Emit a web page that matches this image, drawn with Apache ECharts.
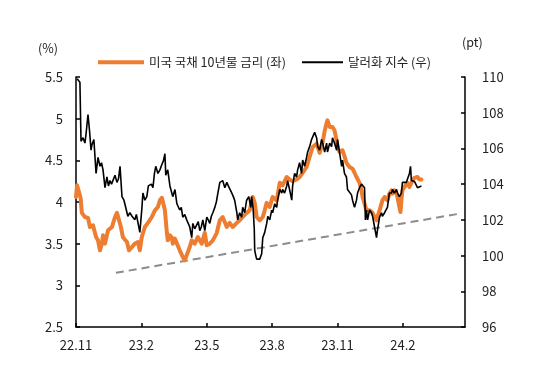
<!DOCTYPE html>
<html>
<head>
<meta charset="utf-8">
<script src="https://cdn.jsdelivr.net/npm/echarts@6/dist/echarts.min.js"></script>
<style>
html,body{margin:0;padding:0;background:#fff;}
#chart{width:540px;height:365px;}
</style>
</head>
<body>
<div id="chart"></div>
<script>
// x positions are in months since 2022-11
const xTickLabels = ['22.11','23.2','23.5','23.8','23.11','24.2'];

// US 10Y treasury yield (%), left axis
const rateT = [0.00,0.05,0.14,0.21,0.27,0.41,0.55,0.64,0.78,0.92,1.01,1.10,1.19,1.24,1.33,1.47,1.65,1.79,1.88,1.97,2.06,2.15,2.24,2.34,2.43,2.57,2.70,2.84,2.93,3.02,3.16,3.30,3.48,3.62,3.76,3.85,3.94,3.99,4.08,4.17,4.21,4.31,4.40,4.44,4.54,4.63,4.76,4.90,4.99,5.08,5.22,5.31,5.45,5.59,5.77,5.91,6.00,6.14,6.28,6.46,6.60,6.73,6.92,7.05,7.19,7.38,7.51,7.65,7.83,7.97,8.11,8.20,8.29,8.43,8.57,8.66,8.75,8.89,9.02,9.21,9.35,9.48,9.67,9.80,9.94,10.12,10.26,10.40,10.58,10.72,10.86,11.04,11.18,11.32,11.41,11.50,11.54,11.64,11.77,11.86,11.96,12.00,12.09,12.23,12.32,12.41,12.55,12.69,12.87,13.01,13.10,13.15,13.24,13.33,13.47,13.61,13.70,13.79,13.83,13.93,14.02,14.06,14.16,14.29,14.38,14.48,14.52,14.61,14.71,14.75,14.84,14.89,14.93,14.98,15.07,15.16,15.21,15.30,15.39,15.44,15.53,15.62,15.67,15.76,15.85];
const rateV = [4.06,4.20,4.18,4.05,3.87,3.82,3.81,3.70,3.72,3.58,3.54,3.42,3.50,3.60,3.50,3.66,3.70,3.82,3.87,3.87,3.70,3.58,3.55,3.52,3.42,3.46,3.50,3.52,3.42,3.58,3.70,3.75,3.82,3.90,3.94,4.02,4.05,4.00,3.90,3.63,3.54,3.60,3.57,3.50,3.56,3.54,3.42,3.34,3.30,3.32,3.46,3.54,3.50,3.58,3.50,3.63,3.48,3.50,3.54,3.63,3.78,3.82,3.70,3.75,3.70,3.75,3.78,3.82,3.87,3.90,4.06,3.99,3.82,3.78,3.82,3.90,3.99,3.94,4.06,4.02,4.23,4.20,4.30,4.27,4.25,4.27,4.30,4.35,4.42,4.54,4.66,4.70,4.59,4.72,4.85,4.95,4.98,4.90,4.90,4.86,4.74,4.66,4.60,4.62,4.55,4.47,4.42,4.40,4.30,4.23,4.14,4.06,3.98,3.90,3.90,3.87,3.82,3.78,3.82,3.90,3.98,4.02,4.06,4.02,4.10,4.14,4.10,4.14,4.10,4.06,3.94,3.88,4.02,4.14,4.18,4.18,4.23,4.18,4.23,4.26,4.29,4.30,4.30,4.27,4.27];

// Dollar index (pt), right axis
const dxyT = [0.05,0.11,0.18,0.23,0.32,0.41,0.46,0.55,0.62,0.69,0.73,0.82,0.92,1.01,1.10,1.17,1.24,1.33,1.42,1.49,1.56,1.63,1.69,1.79,1.88,1.95,2.02,2.11,2.20,2.24,2.34,2.38,2.47,2.57,2.63,2.70,2.77,2.84,2.93,3.02,3.07,3.16,3.25,3.32,3.39,3.46,3.53,3.60,3.66,3.76,3.85,3.94,4.01,4.08,4.12,4.21,4.31,4.37,4.44,4.54,4.63,4.70,4.76,4.83,4.90,4.99,5.08,5.15,5.22,5.31,5.36,5.45,5.54,5.61,5.68,5.75,5.82,5.91,6.00,6.07,6.14,6.21,6.28,6.37,6.44,6.51,6.60,6.67,6.73,6.83,6.92,6.99,7.05,7.15,7.22,7.28,7.38,7.42,7.51,7.60,7.65,7.74,7.83,7.93,8.02,8.06,8.13,8.18,8.20,8.25,8.29,8.36,8.43,8.52,8.57,8.66,8.75,8.80,8.89,8.98,9.02,9.12,9.21,9.25,9.35,9.44,9.48,9.57,9.67,9.71,9.80,9.90,9.94,10.03,10.12,10.17,10.26,10.35,10.40,10.49,10.58,10.63,10.72,10.81,10.86,10.95,11.04,11.09,11.18,11.27,11.32,11.41,11.50,11.54,11.64,11.73,11.77,11.86,11.96,12.00,12.09,12.19,12.23,12.32,12.41,12.46,12.55,12.64,12.69,12.78,12.87,12.92,13.01,13.10,13.15,13.24,13.28,13.33,13.38,13.47,13.56,13.61,13.70,13.79,13.83,13.93,14.02,14.06,14.16,14.25,14.29,14.38,14.48,14.52,14.61,14.71,14.75,14.84,14.93,14.98,15.07,15.16,15.21,15.30,15.35,15.39,15.44,15.53,15.62,15.67,15.76,15.85];
const dxyV = [109.9,110.0,109.7,106.4,106.6,106.3,106.8,107.9,107.0,105.9,106.2,106.5,104.6,105.5,105.0,105.2,104.8,103.8,104.4,103.9,104.2,104.0,104.1,104.5,104.1,104.3,105.0,103.3,103.1,102.9,102.4,102.2,102.4,102.2,102.3,102.0,102.3,102.2,101.3,102.6,103.5,103.1,103.3,103.9,103.8,104.0,103.8,104.6,105.0,104.6,104.8,105.1,105.3,105.7,104.5,104.8,103.9,104.0,103.3,103.7,102.9,103.0,102.55,102.7,102.15,102.3,102.0,102.1,101.6,101.0,101.8,101.5,101.6,101.9,101.4,101.6,102.0,101.4,102.15,102.0,101.8,102.2,102.4,102.7,103.0,103.5,104.1,104.0,104.2,103.8,104.1,103.9,103.8,103.5,103.3,103.1,102.4,102.0,102.4,102.15,102.7,102.4,103.1,103.3,102.7,103.3,102.6,101.5,100.3,100.0,99.8,99.75,99.8,100.1,101.0,101.3,101.8,102.2,102.0,102.55,102.4,102.9,102.7,103.1,103.7,103.5,103.7,103.5,103.9,104.2,103.7,103.1,103.9,104.6,104.4,104.8,105.2,104.6,105.35,105.0,105.5,105.8,106.1,106.5,106.6,106.9,106.6,106.1,105.9,106.5,106.3,105.8,106.3,105.8,106.3,106.1,106.6,106.3,105.9,106.5,105.8,105.0,105.35,104.6,104.4,103.7,103.6,103.4,103.1,102.7,103.1,103.5,103.8,104.0,104.0,103.8,102.0,102.55,102.0,102.55,102.4,102.2,101.6,101.0,101.4,102.15,102.4,102.2,102.4,102.4,102.7,103.5,103.5,103.7,103.5,103.7,103.5,103.3,103.5,104.1,104.2,104.1,104.2,104.6,105.0,104.2,104.1,104.15,104.1,103.8,103.8,103.9];

// dashed trend line (left axis)
const trendT = [1.83, 17.6];
const trendV = [3.15, 3.86];

function pairs(t, v) { return t.map((x, i) => [x, v[i]]); }

const FONT = '"Noto Sans CJK KR", "Noto Sans", sans-serif';
const chart = echarts.init(document.getElementById('chart'), null, {renderer: 'canvas'});
chart.setOption({
  animation: false,
  backgroundColor: '#ffffff',
  textStyle: {fontFamily: FONT},
  grid: {left: 76, right: 75, top: 77, bottom: 38, containLabel: false},
  legend: [
    {left: 93, top: 51, itemWidth: 46, itemHeight: 4, itemGap: 5, icon: 'rect',
     textStyle: {fontSize: 12.5, color: '#222', fontFamily: FONT},
     data: ['미국 국채 10년물 금리 (좌)']},
    {left: 297, top: 51, itemWidth: 41, itemHeight: 2, icon: 'rect',
     textStyle: {fontSize: 12.5, color: '#222', fontFamily: FONT},
     data: ['달러화 지수 (우)']}
  ],
  graphic: [
    {type: 'text', left: 38, top: 42, style: {text: '(%)', fontSize: 12.5, fill: '#222', fontFamily: FONT}},
    {type: 'text', left: 462, top: 36, style: {text: '(pt)', fontSize: 12.5, fill: '#222', fontFamily: FONT}}
  ],
  xAxis: {
    type: 'value', min: 0, max: 17.85, interval: 3,
    axisLine: {show: true, lineStyle: {color: '#000', width: 1.5}},
    axisTick: {show: true, inside: true, length: 4, lineStyle: {color: '#000', width: 1.5}},
    splitLine: {show: false},
    axisLabel: {
      color: '#222', fontSize: 13, margin: 12, showMaxLabel: false,
      formatter: function (v) { const i = Math.round(v / 3); return (Math.abs(v - i * 3) < 1e-6 && xTickLabels[i]) ? xTickLabels[i] : ''; }
    }
  },
  yAxis: [
    {type: 'value', min: 2.5, max: 5.5, interval: 0.5, position: 'left',
     axisLine: {show: true, lineStyle: {color: '#000', width: 1.5}},
     axisTick: {show: true, inside: true, length: 4, lineStyle: {color: '#000', width: 1.5}},
     splitLine: {show: false},
     axisLabel: {color: '#222', fontSize: 13, margin: 13}},
    {type: 'value', min: 96, max: 110, interval: 2, position: 'right',
     axisLine: {show: true, lineStyle: {color: '#000', width: 1.5}},
     axisTick: {show: true, inside: true, length: 4, lineStyle: {color: '#000', width: 1.5}},
     splitLine: {show: false},
     axisLabel: {color: '#222', fontSize: 13, margin: 17}}
  ],
  series: [
    {name: '미국 국채 10년물 금리 (좌)', type: 'line', yAxisIndex: 0, data: pairs(rateT, rateV),
     showSymbol: false, symbol: 'none', color: '#ED7D31',
     lineStyle: {color: '#ED7D31', width: 4, join: 'round', cap: 'round'}, z: 2},
    {name: '달러화 지수 (우)', type: 'line', yAxisIndex: 1, data: pairs(dxyT, dxyV),
     showSymbol: false, symbol: 'none', color: '#000',
     lineStyle: {color: '#000', width: 1.6}, z: 3, clip: true},
    {name: 'trend', type: 'line', yAxisIndex: 0, data: pairs(trendT, trendV),
     showSymbol: false, symbol: 'none', silent: true,
     lineStyle: {color: '#8C8C8C', width: 2, type: [8, 5]}, z: 1}
  ]
});
</script>
</body>
</html>
